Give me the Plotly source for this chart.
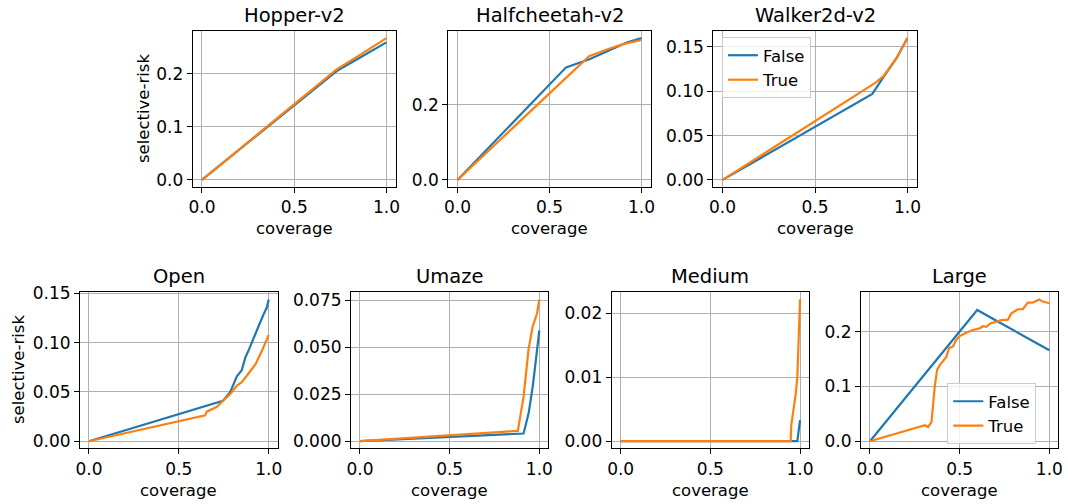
import plotly.graph_objects as go

W, H = 1068, 504
BLUE = "#1f77b4"
ORANGE = "#ff7f0e"
FONT = "DejaVu Sans"

# ---------------- data ----------------
titles = ["Hopper-v2", "Halfcheetah-v2", "Walker2d-v2", "Open", "Umaze", "Medium", "Large"]

hopper_false_x = [0, 0.2, 0.4, 0.6, 0.73, 0.85, 1.0]
hopper_false_y = [0, 0.056, 0.112, 0.168, 0.205, 0.229, 0.259]
hopper_true_x = [0, 0.2, 0.4, 0.6, 0.73, 0.85, 1.0]
hopper_true_y = [0, 0.057, 0.114, 0.171, 0.208, 0.234, 0.267]

half_false_x = [0, 0.59, 0.72, 0.85, 0.92, 1.0]
half_false_y = [0, 0.300, 0.322, 0.352, 0.366, 0.378]
half_true_x = [0, 0.715, 0.82, 0.9, 1.0]
half_true_y = [0, 0.330, 0.349, 0.362, 0.373]

walk_false_x = [0, 0.81, 0.87, 0.94, 1.0]
walk_false_y = [0, 0.097, 0.116, 0.137, 0.160]
walk_true_x = [0, 0.83, 0.87, 0.94, 1.0]
walk_true_y = [0, 0.110, 0.117, 0.137, 0.160]

open_false_x = [0, 0.745, 0.786, 0.823, 0.85, 0.87, 0.89, 0.907, 0.944, 0.972, 0.99, 1.0]
open_false_y = [0, 0.041, 0.050, 0.066, 0.072, 0.085, 0.093, 0.101, 0.117, 0.129, 0.136, 0.144]
open_true_x = [0, 0.647, 0.655, 0.665, 0.712, 0.745, 0.786, 0.823, 0.85, 0.879, 0.926, 0.963, 1.0]
open_true_y = [0, 0.0263, 0.030, 0.031, 0.035, 0.041, 0.048, 0.0566, 0.060, 0.0667, 0.078, 0.092, 0.108]

umaze_false_x = [0, 0.912, 0.94, 0.963, 0.983, 1.0]
umaze_false_y = [0, 0.0041, 0.0147, 0.029, 0.045, 0.059]
umaze_true_x = [0, 0.88, 0.912, 0.94, 0.963, 0.987, 1.0]
umaze_true_y = [0, 0.0055, 0.0236, 0.049, 0.061, 0.068, 0.0755]

medium_false_x = [0, 0.985, 1.0]
medium_false_y = [0, 0, 0.0033]
medium_true_x = [0, 0.948, 0.951, 0.976, 0.985, 1.0]
medium_true_y = [0, 0, 0.0025, 0.0074, 0.010, 0.0222]

large_false_x = [0, 0.598, 0.7, 0.8, 0.9, 1.0]
large_false_y = [0, 0.2396, 0.221, 0.203, 0.185, 0.166]
large_true_x = [0, 0.306, 0.324, 0.343, 0.361, 0.374, 0.389, 0.411, 0.426, 0.441, 0.463,
                0.481, 0.5, 0.537, 0.574, 0.611, 0.63, 0.648, 0.676, 0.704, 0.731, 0.769,
                0.787, 0.824, 0.852, 0.88, 0.907, 0.944, 0.963, 1.0]
large_true_y = [0, 0.0293, 0.026, 0.035, 0.099, 0.130, 0.139, 0.148, 0.154, 0.170, 0.173,
                0.185, 0.192, 0.198, 0.203, 0.206, 0.210, 0.209, 0.216, 0.218, 0.221, 0.222,
                0.233, 0.241, 0.241, 0.253, 0.253, 0.259, 0.255, 0.252]

series = [
    (hopper_false_x, hopper_false_y, hopper_true_x, hopper_true_y),
    (half_false_x, half_false_y, half_true_x, half_true_y),
    (walk_false_x, walk_false_y, walk_true_x, walk_true_y),
    (open_false_x, open_false_y, open_true_x, open_true_y),
    (umaze_false_x, umaze_false_y, umaze_true_x, umaze_true_y),
    (medium_false_x, medium_false_y, medium_true_x, medium_true_y),
    (large_false_x, large_false_y, large_true_x, large_true_y),
]

x_ticks = [0.0, 0.5, 1.0]
x_tick_labels = ["0.0", "0.5", "1.0"]
y_ticks = [
    [0.0, 0.1, 0.2],
    [0.0, 0.2],
    [0.0, 0.05, 0.10, 0.15],
    [0.0, 0.05, 0.10, 0.15],
    [0.0, 0.025, 0.050, 0.075],
    [0.0, 0.01, 0.02],
    [0.0, 0.1, 0.2],
]
y_tick_labels = [
    ["0.0", "0.1", "0.2"],
    ["0.0", "0.2"],
    ["0.00", "0.05", "0.10", "0.15"],
    ["0.00", "0.05", "0.10", "0.15"],
    ["0.000", "0.025", "0.050", "0.075"],
    ["0.00", "0.01", "0.02"],
    ["0.0", "0.1", "0.2"],
]
legend_names = ["False", "True"]

# ---------------- layout geometry (pixels) ----------------
x_px = [(192.7, 395.7), (448.3, 650.7), (713.3, 916.7),
        (80, 277.7), (351, 548.3), (611.7, 809), (861, 1058.3)]
top_y = (31, 187)
bot_y = (292.3, 448.3)
y_px = [top_y] * 3 + [bot_y] * 4

fig = go.Figure()
annotations = []
tick_font = dict(family=FONT, size=17, color="black")

for i, (fx, fy, tx, ty) in enumerate(series):
    n = i + 1
    xa = "x" if n == 1 else f"x{n}"
    ya = "y" if n == 1 else f"y{n}"
    leg = None
    show = False
    if n == 3:
        leg, show = "legend", True
    elif n == 7:
        leg, show = "legend2", True
    kw = dict(legend=leg) if leg else {}
    fig.add_trace(go.Scatter(x=fx, y=fy, mode="lines", line=dict(color=BLUE, width=2.2),
                             name=legend_names[0], showlegend=show, xaxis=xa, yaxis=ya, **kw))
    fig.add_trace(go.Scatter(x=tx, y=ty, mode="lines", line=dict(color=ORANGE, width=2.2),
                             name=legend_names[1], showlegend=show, xaxis=xa, yaxis=ya, **kw))

    allx = list(fx) + list(tx)
    ally = list(fy) + list(ty)
    xmin, xmax = min(allx), max(allx)
    ymin, ymax = min(ally), max(ally)
    xm = 0.05 * (xmax - xmin)
    ym = 0.05 * (ymax - ymin)

    x0, x1 = x_px[i]
    yt, yb = y_px[i]
    xdom = [x0 / W, x1 / W]
    ydom = [1 - yb / H, 1 - yt / H]
    axis_common = dict(showline=True, linecolor="black", linewidth=1.1, mirror=True,
                       ticks="outside", ticklen=5, tickwidth=1.1, tickcolor="black",
                       showgrid=True, gridcolor="#b0b0b0", gridwidth=1.1,
                       zeroline=False, tickfont=tick_font, automargin=False)
    fig.layout[f"xaxis{n if n > 1 else ''}"] = dict(
        domain=xdom, anchor=ya, range=[xmin - xm, xmax + xm],
        tickvals=x_ticks, ticktext=x_tick_labels, **axis_common)
    fig.layout[f"yaxis{n if n > 1 else ''}"] = dict(
        domain=ydom, anchor=xa, range=[ymin - ym, ymax + ym],
        tickvals=y_ticks[i], ticktext=y_tick_labels[i], **axis_common)

    cx = (x0 + x1) / 2 / W
    # title
    annotations.append(dict(text=titles[i], x=cx, y=1 - (yt - 16) / H, xref="paper", yref="paper",
                            xanchor="center", yanchor="middle", showarrow=False,
                            font=dict(family=FONT, size=19.5, color="black")))
    # x label
    annotations.append(dict(text="coverage", x=cx, y=1 - (yb + 42) / H, xref="paper", yref="paper",
                            xanchor="center", yanchor="middle", showarrow=False,
                            font=dict(family=FONT, size=16.5, color="black")))

# y labels
annotations.append(dict(text="selective-risk", x=143 / W, y=1 - 109 / H, xref="paper", yref="paper",
                        xanchor="center", yanchor="middle", textangle=-90, showarrow=False,
                        font=dict(family=FONT, size=16.5, color="black")))
annotations.append(dict(text="selective-risk", x=18 / W, y=1 - 370 / H, xref="paper", yref="paper",
                        xanchor="center", yanchor="middle", textangle=-90, showarrow=False,
                        font=dict(family=FONT, size=16.5, color="black")))

legend_style = dict(bgcolor="rgba(255,255,255,0.8)", bordercolor="#cccccc", borderwidth=1,
                    font=dict(family=FONT, size=16.5, color="black"), xanchor="left", yanchor="top",
                    tracegroupgap=0, itemwidth=30)
fig.update_layout(
    template="none",
    width=W, height=H,
    margin=dict(l=0, r=0, t=0, b=0, autoexpand=False),
    paper_bgcolor="white", plot_bgcolor="white",
    annotations=annotations,
    showlegend=True,
    legend=dict(x=722 / W, y=1 - 37 / H, **legend_style),
    legend2=dict(x=947.3 / W, y=1 - 383 / H, **legend_style),
    font=dict(family=FONT),
)

fig.write_html("out.html", config={"displayModeBar": False},
               post_script="document.body.style.margin='0';")
